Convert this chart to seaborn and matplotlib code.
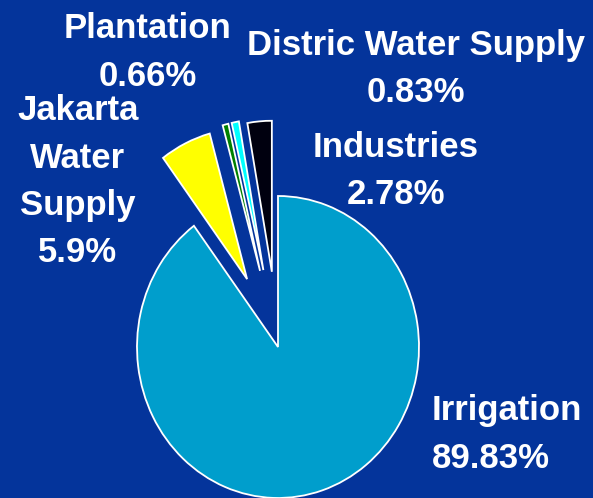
import matplotlib
matplotlib.use("Agg")
import matplotlib.pyplot as plt
import seaborn as sns

categories = ["Irrigation", "Jakarta Water Supply", "Plantation", "Distric Water Supply", "Industries"]
shares = [89.83, 5.9, 0.66, 0.83, 2.78]
label_lines = {
    "Irrigation": ["Irrigation", "89.83%"],
    "Jakarta Water Supply": ["Jakarta", "Water", "Supply", "5.9%"],
    "Plantation": ["Plantation", "0.66%"],
    "Distric Water Supply": ["Distric Water Supply", "0.83%"],
    "Industries": ["Industries", "2.78%"],
}
slice_colors = ["#009ECC", "#FFFF00", "#008000", "#00FFFF", "#00000F"]
explode = [0.0, 0.5, 0.52, 0.52, 0.5]

sns.set_style("white")
plt.rcParams["font.family"] = ["Liberation Sans", "DejaVu Sans"]

BG = "#04349B"
W, H = 593, 498
fig = plt.figure(figsize=(W / 100, H / 100), dpi=100, facecolor=BG)
ax = fig.add_axes([0, 0, 1, 1])
ax.set_facecolor(BG)

ax.pie(shares, colors=slice_colors, explode=explode, startangle=90,
       counterclock=False,
       wedgeprops=dict(edgecolor="white", linewidth=1.3))
ax.set_aspect("auto")
cx, cy, rx, ry = 278, 347, 141, 151
ax.set_xlim(-cx / rx, (W - cx) / rx)
ax.set_ylim(-(H - cy) / ry, cy / ry)
ax.axis("off")

# label layout: (x_px, first baseline y_px, ha)
layout = {
    "Irrigation": (432, 420, "left"),
    "Jakarta Water Supply": (78, 120, "center"),
    "Plantation": (148, 38, "center"),
    "Distric Water Supply": (416, 55, "center"),
    "Industries": (396, 157, "center"),
}
pitch = 47.5
for cat in categories:
    x, y0, ha = layout[cat]
    for i, line in enumerate(label_lines[cat]):
        fig.text(x / W, 1 - (y0 + i * pitch) / H, line, ha=ha, va="baseline",
                 color="white", fontsize=25, fontweight="bold")

fig.savefig("out.png", dpi=100, facecolor=BG)
